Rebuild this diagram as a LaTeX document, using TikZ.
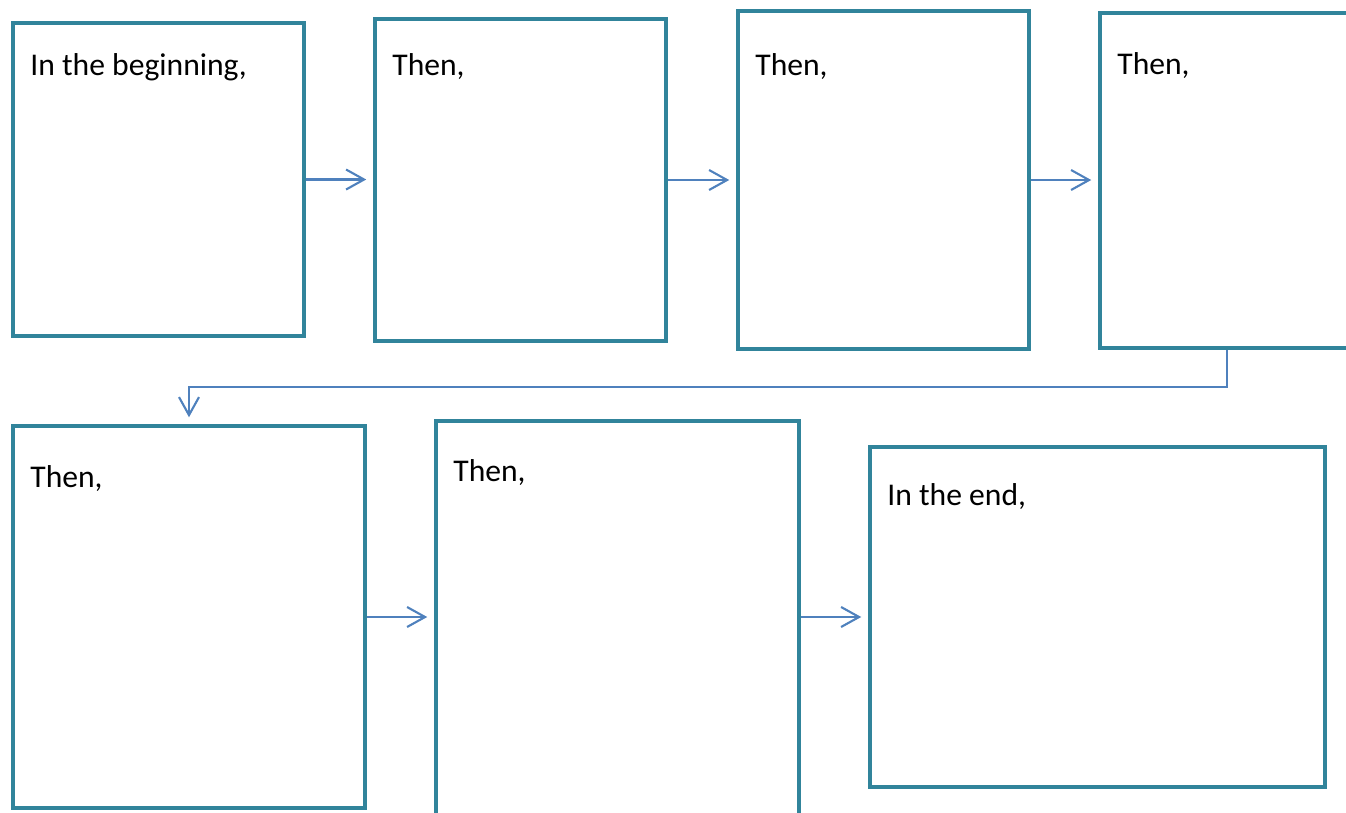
\documentclass[tikz,border=0pt]{standalone}
\usepackage{fontspec}
\setmainfont{Carlito}
\usepackage{tikz}
\usetikzlibrary{arrows.meta}
\definecolor{boxteal}{HTML}{31849B}
\definecolor{linkblue}{HTML}{4F81BD}

\begin{document}
\begin{tikzpicture}[x=0.02cm, y=-0.02cm,
		panel/.style={draw=boxteal, line width=2.6pt, inner sep=0pt, rectangle},
		link/.style={draw=linkblue, line width=1.2pt, -{Straight Barb[length=3.6mm, width=4mm]}, shorten >=0.13cm},
		caption/.style={anchor=base west, inner sep=0pt, font=\fontsize{18}{22}\selectfont}]
		\useasboundingbox (0,0) rectangle (1346,812);
		\clip (0,0) rectangle (1346,812);
\node[panel, minimum width=5.82cm, minimum height=6.26cm] (B1) at (158.5,179.5) {}; % Panel.1 
\node[panel, minimum width=5.82cm, minimum height=6.44cm] (B2) at (520.5,180) {}; % Panel.2 
\node[panel, minimum width=5.82cm, minimum height=6.76cm] (B3) at (883.5,180) {}; % Panel.3 
\node[panel, minimum width=6.00cm, minimum height=6.70cm] (B4) at (1250,180.5) {}; % Panel.4 
\node[panel, minimum width=7.04cm, minimum height=7.64cm] (B5) at (189,617) {}; % Panel.5 
\node[panel, minimum width=7.26cm, minimum height=8.18cm] (B6) at (617.5,625.5) {}; % Panel.6 
\node[panel, minimum width=9.10cm, minimum height=6.80cm] (B7) at (1097.5,617) {}; % Panel.7 

\node[caption] (L1) at (30,75) {In the beginning,}; % Panel.1 
\node[caption] (L2) at (392,75) {Then,}; % Panel.2 
\node[caption] (L3) at (755,75) {Then,}; % Panel.3 
\node[caption] (L4) at (1117,74) {Then,}; % Panel.4 
\node[caption] (L5) at (30,487) {Then,}; % Panel.5 
\node[caption] (L6) at (453,481) {Then,}; % Panel.6 
\node[caption] (L7) at (887,505) {In the end,}; % Panel.7 

\draw[link] (B1.east) -- (B1.east -| B2.west) ; % row.1 
\draw[link] (B2.east) -- (B2.east -| B3.west) ; % row.1 
\draw[link] (B3.east) -- (B3.east -| B4.west) ; % row.1 

\coordinate (K) at (1227,387); % turn 
\draw[link] (K |- B4.south) -- (K) -| (B5.north) ; % turn 

\draw[link] (B5.east) -- (B5.east -| B6.west) ; % row.2 
\draw[link] (B6.east |- B7.west) -- (B7.west) ; % row.2 
		\end{tikzpicture}
\end{document}
